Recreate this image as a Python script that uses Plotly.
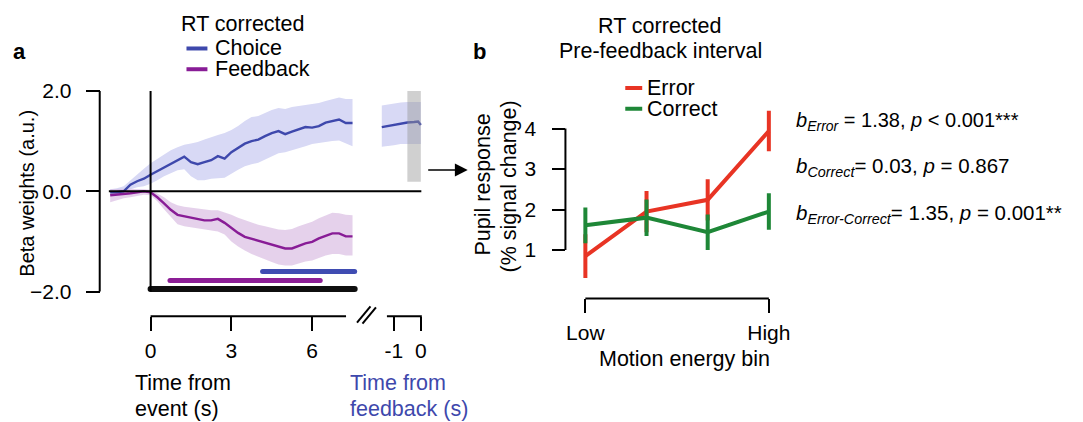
import plotly.graph_objects as go

W, H = 1083, 422
FONT = "Liberation Sans"
FS = 21.5
TFS = 21

# ---------------- data: panel a ----------------
t_event = [-1.5, -1.25, -1.0, -0.75, -0.5, -0.25, 0.0, 0.25, 0.5, 0.75, 1.0, 1.25, 1.5, 1.75,
           2.0, 2.25, 2.5, 2.75, 3.0, 3.25, 3.5, 3.75, 4.0, 4.25, 4.5, 4.75, 5.0, 5.25, 5.5,
           5.75, 6.0, 6.25, 6.5, 6.75, 7.0, 7.25, 7.5]
choice_mean = [-0.02, -0.02, 0.00, 0.13, 0.20, 0.25, 0.33, 0.40, 0.47, 0.55, 0.62, 0.69, 0.58, 0.54,
               0.58, 0.62, 0.70, 0.65, 0.78, 0.87, 0.95, 1.00, 1.03, 1.10, 1.16, 1.20, 1.14, 1.19, 1.24,
               1.28, 1.27, 1.30, 1.37, 1.40, 1.43, 1.36, 1.36]
choice_upper = [0.04, 0.06, 0.10, 0.22, 0.33, 0.45, 0.56, 0.65, 0.74, 0.82, 0.88, 0.93, 0.95, 0.98,
                1.03, 1.08, 1.12, 1.16, 1.22, 1.30, 1.40, 1.48, 1.50, 1.56, 1.62, 1.66, 1.64, 1.68, 1.70,
                1.72, 1.74, 1.76, 1.80, 1.84, 1.87, 1.84, 1.84]
choice_lower = [-0.06, -0.08, -0.06, 0.04, 0.08, 0.10, 0.15, 0.22, 0.30, 0.36, 0.42, 0.44, 0.30, 0.22,
                0.22, 0.25, 0.26, 0.27, 0.35, 0.43, 0.50, 0.54, 0.57, 0.64, 0.70, 0.76, 0.78, 0.82, 0.86,
                0.90, 0.94, 0.96, 0.98, 1.00, 1.01, 0.95, 0.90]
feedback_mean = [-0.08, -0.07, -0.05, -0.04, -0.02, 0.00, -0.02, -0.12, -0.24, -0.37, -0.47, -0.50, -0.53, -0.56,
                 -0.58, -0.58, -0.55, -0.63, -0.73, -0.83, -0.91, -0.95, -0.99, -1.02, -1.06, -1.10, -1.14, -1.14, -1.09,
                 -1.04, -1.01, -0.94, -0.89, -0.84, -0.84, -0.90, -0.90]
feedback_upper = [0.04, 0.05, 0.05, 0.05, 0.05, 0.04, 0.03, -0.04, -0.12, -0.22, -0.28, -0.31, -0.33, -0.35,
                  -0.37, -0.38, -0.38, -0.42, -0.47, -0.53, -0.58, -0.63, -0.67, -0.70, -0.73, -0.76, -0.77, -0.75, -0.70,
                  -0.65, -0.61, -0.54, -0.48, -0.43, -0.44, -0.47, -0.48]
feedback_lower = [-0.22, -0.18, -0.14, -0.12, -0.10, -0.07, -0.08, -0.20, -0.36, -0.52, -0.66, -0.70, -0.72, -0.74,
                  -0.76, -0.78, -0.80, -0.86, -1.00, -1.10, -1.18, -1.25, -1.30, -1.36, -1.41, -1.46, -1.48, -1.48, -1.44,
                  -1.40, -1.38, -1.33, -1.28, -1.25, -1.25, -1.28, -1.28]

t_feedback = [-1.45, -1.25, -1.0, -0.75, -0.5, -0.25, -0.1, 0.0]
choice_fb_mean = [1.28, 1.30, 1.31, 1.34, 1.37, 1.38, 1.39, 1.32]
choice_fb_upper = [1.71, 1.73, 1.75, 1.77, 1.78, 1.78, 1.78, 1.78]
choice_fb_lower = [0.89, 0.90, 0.92, 0.94, 0.95, 0.95, 0.94, 0.94]

# significance bars: (start, end, level)
sig_choice = [4.16, 7.58, -1.60]
sig_feedback = [0.72, 6.30, -1.78]
sig_both = [0.0, 7.58, -1.95]
window_fb = [-0.5, 0.0, 0.19, 2.0]

a_yticks = [-2.0, 0.0, 2.0]
a_yticklabels = ["\u22122.0", "0.0", "2.0"]
a_xticks = [0, 3, 6]
a_fbticks = [-1, 0]
a_fbticklabels = ["-1", "0"]

# ---------------- data: panel b ----------------
bins = [1, 2, 3, 4]
bin_labels = ["Low", "High"]
error_mean = [0.85, 1.95, 2.24, 3.94]
error_sem = [0.54, 0.51, 0.51, 0.50]
correct_mean = [1.61, 1.80, 1.44, 1.95]
correct_sem = [0.44, 0.45, 0.44, 0.45]
b_yticks = [1, 2, 3, 4]

# ---------------- colours ----------------
C_CHOICE = "rgb(62,72,172)"
C_CHOICE_BAND = "rgb(216,217,245)"
C_FB = "rgb(136,28,150)"
C_FB_BAND = "rgba(215,185,225,0.65)"
C_ERR = "rgb(232,52,36)"
C_COR = "rgb(30,135,55)"


def fx(px):
    return px / W


def fy(py):
    return 1 - py / H


# pixel geometry of panel a
A_X0, A_T0, A_PXS = 90, 151, 27.0  # t=0 at px 151, 27 px per second
A_X1 = 432
A_FB0 = 422  # feedback time 0 pixel
A_Y0PX, A_YS = 188.5, 50.75
A_YTOP, A_YBOT = 80, 340

B_X0PX, B_XS = 587, 61.33
B_Y1PX, B_YS = 248, 41.0
B_XD = (556, 790)
B_YD = (95, 305)

fig = go.Figure()

# bands
fig.add_trace(go.Scatter(x=t_event + t_event[::-1], y=choice_upper + choice_lower[::-1],
                         fill="toself", fillcolor=C_CHOICE_BAND, line=dict(width=0),
                         mode="lines", hoverinfo="skip", showlegend=False, xaxis="x", yaxis="y"))
fig.add_trace(go.Scatter(x=t_feedback + t_feedback[::-1], y=choice_fb_upper + choice_fb_lower[::-1],
                         fill="toself", fillcolor=C_CHOICE_BAND, line=dict(width=0),
                         mode="lines", hoverinfo="skip", showlegend=False, xaxis="x2", yaxis="y"))
fig.add_trace(go.Scatter(x=t_event + t_event[::-1], y=feedback_upper + feedback_lower[::-1],
                         fill="toself", fillcolor=C_FB_BAND, line=dict(width=0),
                         mode="lines", hoverinfo="skip", showlegend=False, xaxis="x", yaxis="y"))
# mean lines
fig.add_trace(go.Scatter(x=t_event, y=choice_mean, mode="lines", line=dict(color=C_CHOICE, width=2.4),
                         showlegend=False, xaxis="x", yaxis="y"))
fig.add_trace(go.Scatter(x=t_feedback, y=choice_fb_mean, mode="lines", line=dict(color=C_CHOICE, width=2.4),
                         showlegend=False, xaxis="x2", yaxis="y"))
fig.add_trace(go.Scatter(x=t_event, y=feedback_mean, mode="lines", line=dict(color=C_FB, width=2.4),
                         showlegend=False, xaxis="x", yaxis="y"))

# significance bars (round ends via markers)
for bar, col, w in [(sig_choice, "rgb(63,76,178)", 5), (sig_feedback, "rgb(140,30,150)", 5),
                    (sig_both, "rgb(15,15,15)", 6)]:
    fig.add_trace(go.Scatter(x=[bar[0], bar[1]], y=[bar[2], bar[2]], mode="lines+markers",
                             line=dict(color=col, width=w), marker=dict(color=col, size=w, line=dict(width=0)),
                             showlegend=False, hoverinfo="skip", xaxis="x", yaxis="y"))

# panel b
fig.add_trace(go.Scatter(x=bins, y=error_mean, mode="lines", line=dict(color=C_ERR, width=4),
                         error_y=dict(type="data", array=error_sem, color=C_ERR, thickness=4, width=0),
                         showlegend=False, xaxis="x3", yaxis="y3"))
fig.add_trace(go.Scatter(x=bins, y=correct_mean, mode="lines", line=dict(color=C_COR, width=4),
                         error_y=dict(type="data", array=correct_sem, color=C_COR, thickness=4, width=0),
                         showlegend=False, xaxis="x3", yaxis="y3"))

tickfont = dict(family=FONT, size=TFS, color="black")

fig.update_layout(
    width=W, height=H, margin=dict(l=0, r=0, t=0, b=0),
    paper_bgcolor="white", plot_bgcolor="rgba(0,0,0,0)",
    font=dict(family=FONT, size=FS, color="black"),
    xaxis=dict(domain=[fx(A_X0), fx(A_X1)],
               range=[(A_X0 - A_T0) / A_PXS, (A_X1 - A_T0) / A_PXS],
               anchor="free", position=fy(315), showline=False, showgrid=False, zeroline=False,
               tickvals=a_xticks, ticks="outside", ticklen=14, tickwidth=2, tickcolor="black",
               tickfont=tickfont, ticklabelstandoff=2),
    xaxis2=dict(domain=[fx(370), fx(A_X1)],
                range=[(370 - A_FB0) / A_PXS, (A_X1 - A_FB0) / A_PXS],
                anchor="free", position=fy(315), showline=False, showgrid=False, zeroline=False,
                tickvals=a_fbticks, ticktext=a_fbticklabels, ticks="outside", ticklen=14, tickwidth=2,
                tickcolor="black", tickfont=tickfont, ticklabelstandoff=2),
    yaxis=dict(domain=[fy(A_YBOT), fy(A_YTOP)],
               range=[(A_Y0PX - A_YBOT) / A_YS, (A_Y0PX - A_YTOP) / A_YS],
               anchor="free", position=fx(100), showline=False, showgrid=False, zeroline=False,
               tickvals=a_yticks, ticktext=a_yticklabels, ticks="outside", ticklen=14, tickwidth=2,
               tickcolor="black", tickfont=tickfont, ticklabelstandoff=10),
    xaxis3=dict(domain=[fx(B_XD[0]), fx(B_XD[1])],
                range=[(B_XD[0] - B_X0PX) / B_XS + 1, (B_XD[1] - B_X0PX) / B_XS + 1],
                anchor="free", position=fy(297), showline=False, showgrid=False, zeroline=False,
                tickvals=[bins[0], bins[-1]], ticktext=bin_labels, ticks="outside", ticklen=14,
                tickwidth=2, tickcolor="black", tickfont=tickfont, ticklabelstandoff=1),
    yaxis3=dict(domain=[fy(B_YD[1]), fy(B_YD[0])],
                range=[(B_Y1PX - B_YD[1]) / B_YS + 1, (B_Y1PX - B_YD[0]) / B_YS + 1],
                anchor="free", position=fx(567), showline=False, showgrid=False, zeroline=False,
                tickvals=b_yticks, ticks="outside", ticklen=13, tickwidth=2, tickcolor="black",
                tickfont=tickfont, ticklabelstandoff=12),
)

shapes = []
LW = 2
# panel a y spine
shapes.append(dict(type="line", xref="x", yref="y", x0=(100 - A_T0) / A_PXS, x1=(100 - A_T0) / A_PXS,
                   y0=a_yticks[0], y1=a_yticks[-1], line=dict(color="black", width=LW)))
# vertical event line
shapes.append(dict(type="line", xref="x", yref="y", x0=0, x1=0, y0=a_yticks[0], y1=a_yticks[-1],
                   line=dict(color="black", width=LW)))
# zero line
shapes.append(dict(type="line", xref="x", yref="y", x0=t_event[0] - 0.05,
                   x1=(A_FB0 + 0.5 - A_T0) / A_PXS, y0=0, y1=0, line=dict(color="black", width=LW)))
# lower time axis lines
axis_v = (A_Y0PX - 315) / A_YS
shapes.append(dict(type="line", xref="x", yref="y", x0=0, x1=(347 - A_T0) / A_PXS, y0=axis_v, y1=axis_v,
                   line=dict(color="black", width=LW)))
shapes.append(dict(type="line", xref="x2", yref="y", x0=(388 - A_FB0) / A_PXS, x1=(423 - A_FB0) / A_PXS,
                   y0=axis_v, y1=axis_v, line=dict(color="black", width=LW)))
# axis break marks
shapes.append(dict(type="line", xref="paper", yref="paper", x0=fx(358), y0=fy(321.5), x1=fx(371.5), y1=fy(305),
                   line=dict(color="black", width=LW)))
shapes.append(dict(type="line", xref="paper", yref="paper", x0=fx(363.5), y0=fy(322.5), x1=fx(377), y1=fy(306),
                   line=dict(color="black", width=LW)))
# pre-feedback window
shapes.append(dict(type="rect", xref="x2", yref="y", x0=window_fb[0], x1=window_fb[1], y0=window_fb[2],
                   y1=window_fb[3], fillcolor="rgba(150,150,150,0.45)", line=dict(width=0), layer="above"))
# panel b spines
b_xspine = (567 - B_X0PX) / B_XS + 1
shapes.append(dict(type="line", xref="x3", yref="y3", x0=b_xspine, x1=b_xspine, y0=b_yticks[0], y1=b_yticks[-1],
                   line=dict(color="black", width=LW)))
b_yaxis_v = (B_Y1PX - 297) / B_YS + 1
shapes.append(dict(type="line", xref="x3", yref="y3", x0=bins[0], x1=bins[-1], y0=b_yaxis_v, y1=b_yaxis_v,
                   line=dict(color="black", width=LW)))
# legend swatches
shapes.append(dict(type="line", xref="paper", yref="paper", x0=fx(187), x1=fx(208), y0=fy(44), y1=fy(44),
                   line=dict(color=C_CHOICE, width=4)))
shapes.append(dict(type="line", xref="paper", yref="paper", x0=fx(187), x1=fx(208), y0=fy(65), y1=fy(65),
                   line=dict(color=C_FB, width=4)))
shapes.append(dict(type="line", xref="paper", yref="paper", x0=fx(627), x1=fx(644), y0=fy(84), y1=fy(84),
                   line=dict(color=C_ERR, width=4)))
shapes.append(dict(type="line", xref="paper", yref="paper", x0=fx(627), x1=fx(644), y0=fy(105), y1=fy(105),
                   line=dict(color=C_COR, width=4)))
fig.update_layout(shapes=shapes)


def txt(x, y, s, xa="left", ya="middle", size=FS, color="black", angle=0):
    return dict(x=fx(x), y=fy(y), xref="paper", yref="paper", text=s, showarrow=False,
                xanchor=xa, yanchor=ya, textangle=angle, font=dict(family=FONT, size=size, color=color))


ann = [
    txt(20, 47, "<b>a</b>", xa="center", size=22),
    txt(481, 47, "<b>b</b>", xa="center", size=22),
    txt(243, 19, "RT corrected", xa="center"),
    txt(214, 44, "Choice"),
    txt(214, 65, "Feedback"),
    txt(27, 190, "Beta weights (a.u.)", xa="center", angle=-90, size=20),
    txt(133, 383, "Time from"),
    txt(133, 409, "event (s)"),
    txt(349, 383, "Time from", color=C_CHOICE),
    txt(349, 409, "feedback (s)", color=C_CHOICE),
    txt(661, 21, "RT corrected", xa="center"),
    txt(662, 47, "Pre-feedback interval", xa="center"),
    txt(647, 84, "Error"),
    txt(647, 105, "Correct"),
    txt(484, 182, "Pupil response", xa="center", angle=-90),
    txt(510, 184, "(% signal change)", xa="center", angle=-90),
    txt(686, 358, "Motion energy bin", xa="center"),
    txt(796, 118, "<i>b</i><sub><i>Error</i></sub> = 1.38, <i>p</i> &lt; 0.001***", size=20),
    txt(796, 164, "<i>b</i><sub><i>Correct</i></sub>= 0.03, <i>p</i> = 0.867", size=20.5),
    txt(796, 211, "<i>b</i><sub><i>Error-Correct</i></sub>= 1.35, <i>p</i> = 0.001**", size=20.5),
]
ann.append(dict(x=fx(469), y=fy(167), xref="paper", yref="paper", ax=-41, ay=0, text="",
                showarrow=True, arrowhead=2, arrowsize=1.6, arrowwidth=1.6, arrowcolor="black"))
fig.update_layout(annotations=ann)

fig.write_html("out.html", config={"displayModeBar": False},
               post_script="document.body.style.margin='0px';document.body.style.overflow='hidden';")
